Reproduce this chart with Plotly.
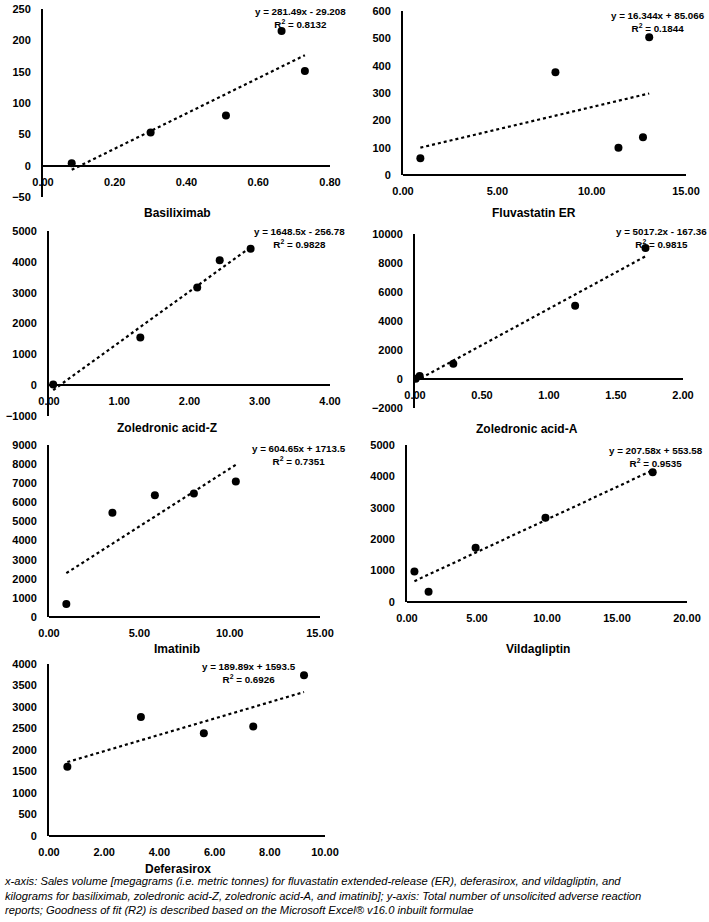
import plotly.graph_objects as go

W, H = 709, 922

# ---------------- data ----------------
names = ["Basiliximab", "Fluvastatin ER", "Zoledronic acid-Z", "Zoledronic acid-A",
         "Imatinib", "Vildagliptin", "Deferasirox"]

basiliximab_x = [0.08, 0.30, 0.51, 0.665, 0.73]
basiliximab_y = [4, 53, 80, 215, 151]

fluvastatin_x = [0.92, 8.08, 11.42, 12.72, 13.05]
fluvastatin_y = [61, 376, 100, 138, 504]

zoledronic_z_x = [0.06, 1.30, 2.11, 2.43, 2.87]
zoledronic_z_y = [20, 1548, 3171, 4048, 4426]

zoledronic_a_x = [0.005, 0.035, 0.286, 1.195, 1.72]
zoledronic_a_y = [20, 207, 1060, 5046, 9032]

imatinib_x = [0.96, 3.51, 5.86, 8.02, 10.34]
imatinib_y = [679, 5449, 6372, 6459, 7086]

vildagliptin_x = [0.53, 1.54, 4.90, 9.89, 17.55]
vildagliptin_y = [975, 328, 1727, 2680, 4131]

deferasirox_x = [0.665, 3.33, 5.61, 7.40, 9.24]
deferasirox_y = [1608, 2765, 2392, 2548, 3736]

eq_slope = [281.49, 16.344, 1648.5, 5017.2, 604.65, 207.58, 189.89]
eq_intercept = [-29.208, 85.066, -256.78, -167.36, 1713.5, 553.58, 1593.5]
eq_text = ["y = 281.49x - 29.208", "y = 16.344x + 85.066", "y = 1648.5x - 256.78",
           "y = 5017.2x - 167.36", "y = 604.65x + 1713.5", "y = 207.58x + 553.58",
           "y = 189.89x + 1593.5"]
r2_text = ["0.8132", "0.1844", "0.9828", "0.9815", "0.7351", "0.9535", "0.6926"]

x_ranges = [[0, 0.8], [0, 15], [0, 4], [0, 2], [0, 15], [0, 20], [0, 10]]
x_dticks = [0.2, 5, 1, 0.5, 5, 5, 2]
y_ranges = [[-50, 250], [0, 600], [-1000, 5000], [-2000, 10000], [0, 9000], [0, 5000], [0, 4000]]
y_dticks = [50, 100, 1000, 2000, 1000, 1000, 500]

caption_lines = [
    "x-axis: Sales volume [megagrams (i.e. metric tonnes) for fluvastatin extended-release (ER), deferasirox, and vildagliptin, and",
    "kilograms for basiliximab, zoledronic acid-Z, zoledronic acid-A, and imatinib]; y-axis: Total number of unsolicited adverse reaction",
    "reports; Goodness of fit (R2) is described based on the Microsoft Excel\u00ae v16.0 inbuilt formulae",
]

xs = [basiliximab_x, fluvastatin_x, zoledronic_z_x, zoledronic_a_x, imatinib_x, vildagliptin_x, deferasirox_x]
ys = [basiliximab_y, fluvastatin_y, zoledronic_z_y, zoledronic_a_y, imatinib_y, vildagliptin_y, deferasirox_y]

# ---------------- layout (pixel boxes of each plot area) ----------------
# (left, right, top, bottom) in px
boxes = [
    (43, 330, 9, 197),
    (403, 686, 11, 175),
    (49, 330, 231, 416),
    (415, 683, 234, 408),
    (49, 320, 445, 617),
    (407, 687, 445, 602),
    (49, 325, 664, 836),
]
# equation label centres (x, y of first line) in px
eq_pos = [(300, 10), (658, 14), (299, 230), (661, 230), (299, 447), (656, 449), (249, 665)]
# panel title centres in px
title_pos = [(177, 213), (534, 213), (167, 428), (527, 429), (177, 649), (538, 649), (178, 869)]

def px_x(p):
    return p / W

def px_y(p):
    return 1 - p / H

FONT = "Liberation Sans, Arial, sans-serif"
tick_font = dict(family=FONT, size=11, color="black", weight="bold")

fig = go.Figure()
annotations = []
layout_axes = {}

for i in range(7):
    n = "" if i == 0 else str(i + 1)
    xa, ya = "x" + n, "y" + n
    l, r, t, b = boxes[i]
    ydom = [px_y(b), px_y(t)]
    ymin, ymax = y_ranges[i]
    # position of the x axis at y = 0
    frac = (0 - ymin) / (ymax - ymin)
    xpos = ydom[0] + frac * (ydom[1] - ydom[0])

    x0, x1 = min(xs[i]), max(xs[i])
    fig.add_trace(go.Scatter(
        x=[x0, x1], y=[eq_slope[i] * x0 + eq_intercept[i], eq_slope[i] * x1 + eq_intercept[i]],
        mode="lines", line=dict(color="black", width=2.2, dash="dot"),
        xaxis=xa, yaxis=ya, showlegend=False, hoverinfo="skip"))
    fig.add_trace(go.Scatter(
        x=xs[i], y=ys[i], mode="markers",
        marker=dict(color="black", size=8),
        xaxis=xa, yaxis=ya, showlegend=False))

    layout_axes["xaxis" + n] = dict(
        domain=[px_x(l), px_x(r)], range=x_ranges[i], dtick=x_dticks[i], tick0=0,
        tickformat=".2f", showgrid=False, zeroline=False, showline=True,
        linecolor="black", linewidth=2, ticks="", tickfont=tick_font,
        anchor="free", position=xpos, ticklabelstandoff=6, fixedrange=True,
        automargin=False)
    layout_axes["yaxis" + n] = dict(
        domain=ydom, range=y_ranges[i], dtick=y_dticks[i], tick0=0,
        tickformat="d", showgrid=False, zeroline=False, showline=True, linecolor="black",
        linewidth=2, ticks="", tickfont=tick_font, anchor=xa,
        ticklabelstandoff=8, fixedrange=True, automargin=False)

    ex, ey = eq_pos[i]
    annotations.append(dict(
        text=eq_text[i] + "<br>R<sup>2</sup> = " + r2_text[i],
        x=px_x(ex), y=px_y(ey - 6), xref="paper", yref="paper",
        xanchor="center", yanchor="top", showarrow=False, align="center",
        font=dict(family=FONT, size=9.8, color="black", weight="bold")))
    tx, ty = title_pos[i]
    annotations.append(dict(
        text=names[i], x=px_x(tx), y=px_y(ty), xref="paper", yref="paper",
        xanchor="center", yanchor="middle", showarrow=False,
        font=dict(family=FONT, size=12, color="black", weight="bold")))

# caption as one multi-line text block
annotations.append(dict(
    text="<br>".join("<i>" + line + "</i>" for line in caption_lines),
    x=px_x(2), y=px_y(895), xref="paper", yref="paper",
    xanchor="left", yanchor="middle", align="left",
    showarrow=False, font=dict(family=FONT, size=11.2, color="black")))

fig.update_layout(
    template="none",
    width=W, height=H, margin=dict(l=0, r=0, t=0, b=0, pad=0, autoexpand=False),
    paper_bgcolor="white", plot_bgcolor="white",
    annotations=annotations, **layout_axes)

fig.write_html(
    "out.html",
    config={"displayModeBar": False},
    post_script="document.documentElement.style.margin='0';document.body.style.margin='0';document.body.style.padding='0';document.documentElement.style.overflow='hidden';",
)
